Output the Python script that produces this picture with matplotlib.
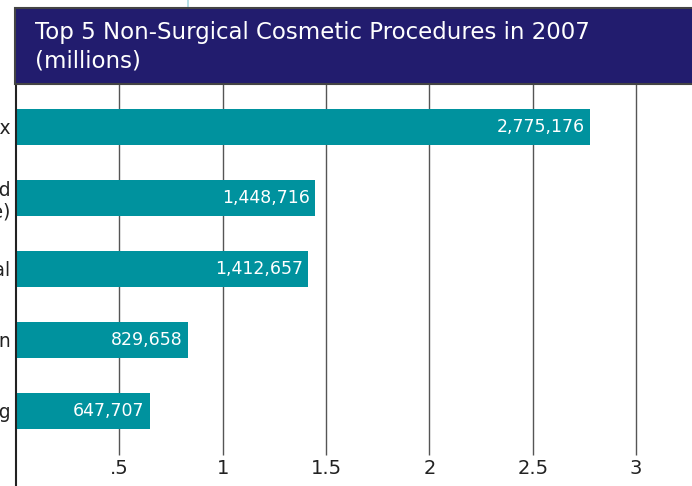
import matplotlib
matplotlib.use('Agg')
import matplotlib.pyplot as plt
from matplotlib.patches import Rectangle
from matplotlib.lines import Line2D

# data (millions of procedures, 2007)
procedures = ['Botox', 'Hyaluronic Acid\n(Hylaform, Restylane)', 'Laser Hair Removal',
              'Microdermabrasion', 'Laser Skin Resurfacing']
counts = [2775176, 1448716, 1412657, 829658, 647707]
tick_values = [0.5, 1, 1.5, 2, 2.5, 3]
tick_labels = ['.5', '1', '1.5', '2', '2.5', '3']

bar_color = '#00929e'
band_color = '#221c6e'
grid_color = '#555555'

plt.rcParams['font.family'] = ['DejaVu Sans']

fig = plt.figure(figsize=(6.92, 4.86), dpi=100)
ax = fig.add_axes([16 / 692, 0, 1 - 16 / 692, (486 - 84) / 486])

values = [c / 1e6 for c in counts]
ypos = list(range(len(procedures)))

ax.set_xlim(0, 3.27)
ax.set_ylim(5.06, -0.6)

# gridlines stop above the tick labels
for v in tick_values:
    ax.vlines(v, -0.6, 4.62, color=grid_color, lw=1.0, zorder=1)

ax.barh(ypos, values, height=0.51, color=bar_color, zorder=2)

for y, v, c in zip(ypos, values, counts):
    ax.text(v - 0.025, y, f'{c:,}', color='white', ha='right', va='center',
            fontsize=12.5, zorder=3)

for v, lab in zip(tick_values, tick_labels):
    ax.text(v, 4.82, lab, ha='center', va='center', fontsize=14, color='#222222')

ax.set_yticks(ypos)
ax.set_yticklabels(procedures, fontsize=13.5, color='#222222')
ax.tick_params(axis='y', length=0, pad=4)
ax.set_xticks([])

for s in ['top', 'right', 'bottom']:
    ax.spines[s].set_visible(False)
ax.spines['left'].set_color('#222222')
ax.spines['left'].set_linewidth(1.5)

# title band
band = Rectangle((15 / 692, (486 - 84) / 486), 1.0, (84 - 8) / 486,
                 transform=fig.transFigure, facecolor=band_color,
                 edgecolor='#444444', lw=1.5, zorder=5)
fig.patches.append(band)
fig.lines.append(Line2D([188 / 692, 188 / 692], [1 - 8 / 486, 1.0],
                        transform=fig.transFigure, color='#a9d9e2', lw=1.2))
fig.text(35 / 692, 1 - 33 / 486, 'Top 5 Non-Surgical Cosmetic Procedures in 2007',
         color='white', fontsize=16.5, va='center', ha='left', zorder=6)
fig.text(35 / 692, 1 - 61 / 486, '(millions)',
         color='white', fontsize=16.5, va='center', ha='left', zorder=6)

fig.savefig('out.png', dpi=100)
